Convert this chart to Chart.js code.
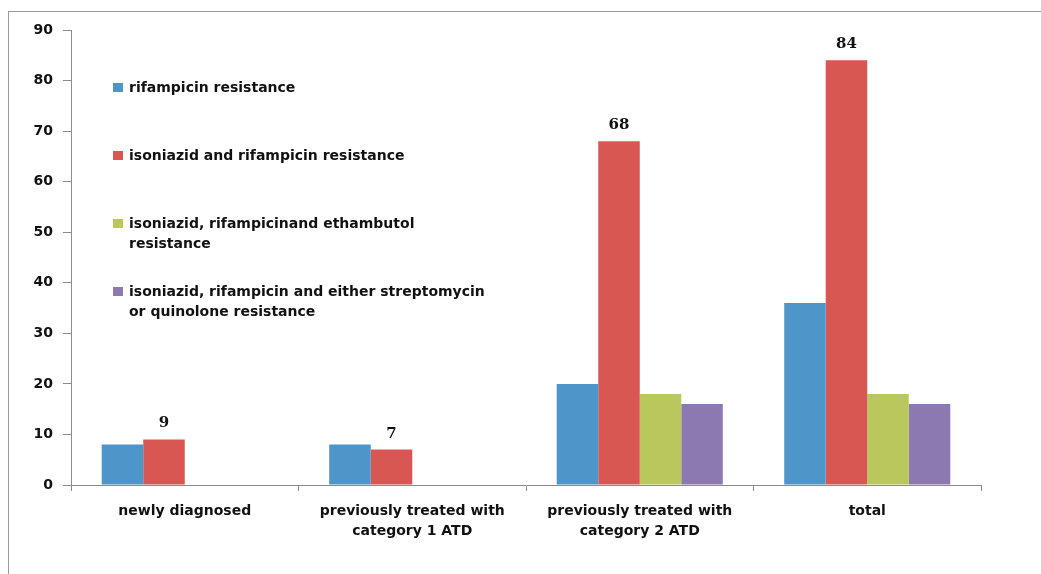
<!DOCTYPE html>
<html>
<head>
<meta charset="utf-8">
<script src="https://cdn.jsdelivr.net/npm/chart.js@4/dist/chart.umd.min.js"></script>
<style>
  html, body { margin: 0; padding: 0; background: #fff; overflow: hidden; }
  #wrap { position: relative; width: 1041px; height: 574px; }
  canvas { display: block; }
</style>
</head>
<body>
<div id="wrap"><canvas id="c" width="1041" height="574"></canvas></div>
<script>
// Patient groups along the x axis (multi-line labels)
const categories = [
  ["newly diagnosed"],
  ["previously treated with", "category 1 ATD"],
  ["previously treated with", "category 2 ATD"],
  ["total"]
];

// Resistance pattern counts per group
const rifampicinRes = [8, 8, 20, 36];
const isoRifRes = [9, 7, 68, 84];
const isoRifEthRes = [null, null, 18, 18];
const isoRifStrepQuinRes = [null, null, 16, 16];

// Series names, split where the legend wraps
const seriesNames = [
  ["rifampicin resistance"],
  ["isoniazid and rifampicin resistance"],
  ["isoniazid, rifampicinand ethambutol", "resistance"],
  ["isoniazid, rifampicin and either streptomycin", "or quinolone resistance"]
];

// Value axis ticks
const yTicks = [0, 10, 20, 30, 40, 50, 60, 70, 80, 90];

const seriesColors = ["#4E95C9", "#D95753", "#B9C75C", "#8D79B1"];
const axisColor = "#8c8c8c";
const textColor = "#111";
const sansBold = { family: "'DejaVu Sans', sans-serif", size: 14, weight: "bold" };

// Thin frame around the whole figure
const framePlugin = {
  id: "frame",
  beforeDraw(chart) {
    const ctx = chart.ctx;
    ctx.save();
    ctx.strokeStyle = "#9a9a9a";
    ctx.lineWidth = 1;
    ctx.strokeRect(8.5, 11.5, chart.width + 20, chart.height + 20);
    ctx.restore();
  }
};

// Legend drawn inside the plot area, with wrapped entries
const innerLegendPlugin = {
  id: "innerLegend",
  afterDraw(chart, args, opts) {
    const ctx = chart.ctx;
    ctx.save();
    ctx.font = "bold 14px 'DejaVu Sans', sans-serif";
    ctx.textBaseline = "middle";
    ctx.textAlign = "left";
    chart.data.datasets.forEach((ds, i) => {
      const y0 = opts.top + i * opts.step;
      ctx.fillStyle = ds.backgroundColor;
      ctx.fillRect(opts.left, y0 - 5, 10, 9);
      ctx.fillStyle = textColor;
      const lines = seriesNames[i];
      lines.forEach((line, j) => {
        ctx.fillText(line, opts.left + 16, y0 + j * opts.lineGap);
      });
    });
    ctx.restore();
  }
};

// Value labels above the isoniazid + rifampicin bars
const valueLabelPlugin = {
  id: "valueLabels",
  afterDatasetsDraw(chart) {
    const ctx = chart.ctx;
    const dsIndex = 1;
    const meta = chart.getDatasetMeta(dsIndex);
    const values = chart.data.datasets[dsIndex].data;
    ctx.save();
    ctx.font = "bold 15px 'DejaVu Serif', serif";
    ctx.fillStyle = textColor;
    ctx.textAlign = "center";
    ctx.textBaseline = "middle";
    meta.data.forEach((bar, k) => {
      if (values[k] == null) return;
      ctx.fillText(String(values[k]), bar.x, bar.y - 16);
    });
    ctx.restore();
  }
};

new Chart(document.getElementById("c"), {
  type: "bar",
  data: {
    labels: categories,
    datasets: [
      { label: seriesNames[0].join(" "), data: rifampicinRes, backgroundColor: seriesColors[0] },
      { label: seriesNames[1].join(" "), data: isoRifRes, backgroundColor: seriesColors[1] },
      { label: seriesNames[2].join(" "), data: isoRifEthRes, backgroundColor: seriesColors[2] },
      { label: seriesNames[3].join(" "), data: isoRifStrepQuinRes, backgroundColor: seriesColors[3] }
    ]
  },
  options: {
    responsive: false,
    animation: false,
    devicePixelRatio: 1,
    categoryPercentage: 0.73,
    barPercentage: 1,
    layout: { padding: { top: 30, right: 60, left: 0, bottom: 0 } },
    plugins: {
      legend: { display: false },
      tooltip: { enabled: false },
      innerLegend: { left: 113, top: 88, step: 68, lineGap: 20 }
    },
    scales: {
      x: {
        offset: true,
        grid: { drawOnChartArea: false, offset: true, tickLength: 6, color: axisColor },
        border: { color: axisColor },
        ticks: { font: { ...sansBold, lineHeight: 1.4 }, color: textColor, padding: 11, maxRotation: 0, autoSkip: false },
        afterFit(scale) { scale.height = 89; }
      },
      y: {
        min: 0,
        max: 90,
        afterBuildTicks(scale) { scale.ticks = yTicks.map(v => ({ value: v })); },
        grid: { drawOnChartArea: false, tickLength: 8, color: axisColor },
        border: { color: axisColor },
        ticks: { font: sansBold, color: textColor, padding: 10 },
        afterFit(scale) { scale.width = 71; }
      }
    }
  },
  plugins: [framePlugin, innerLegendPlugin, valueLabelPlugin]
});
</script>
</body>
</html>
